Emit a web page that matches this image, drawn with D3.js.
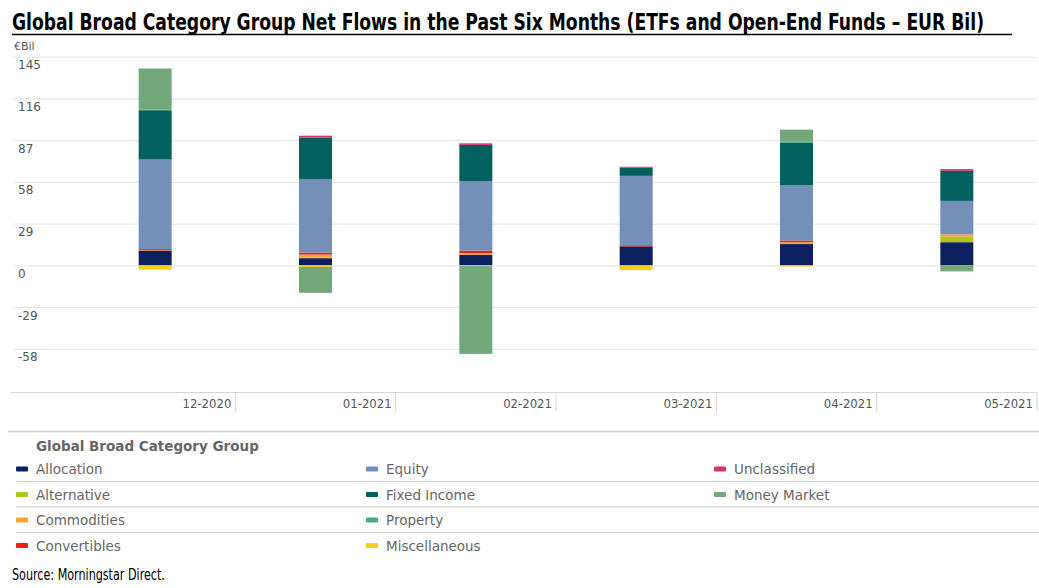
<!DOCTYPE html>
<html>
<head>
<meta charset="utf-8">
<style>
  body { margin: 0; background: #fff; }
  svg { display: block; }
</style>
</head>
<body>
<div id="chart"></div>
<script src="https://d3js.org/d3.v7.min.js"></script>
<script>

	var w = 1039, h = 588;

	// data (EUR bil)
	var months = ["12-2020", "01-2021", "02-2021", "03-2021", "04-2021", "05-2021"];
	var allocation    = [10.2, 5.0, 7.4, 13.2, 14.8, 16.1];
	var alternative   = [0, 0.3, 0, 0, 0, 3.8];
	var commodities   = [0.3, 2.2, 1.2, 0, 1.3, 1.7];
	var convertibles  = [0.8, 1.4, 1.6, 0.8, 1.2, 0];
	var equity        = [62.3, 51, 48.2, 48.2, 38.3, 23.2];
	var fixedIncome   = [34.2, 29, 25.3, 5.6, 29.5, 20.9];
	var property      = [0.5, 0, 0, 0, 1.1, 0];
	var miscellaneous = [-3, -1.1, -0.5, -3.3, -0.8, 0];
	var unclassified  = [0, 1.2, 1.1, 0.7, 0, 1.2];
	var moneyMarket   = [28.5, -18, -61, 0, 8.1, -4.2];
	var yTicks = [-58, -29, 0, 29, 58, 87, 116, 145];

	// stacking order
	var series = [
		{ name: "Allocation", values: allocation, color: "#0c1f5e" },
		{ name: "Alternative", values: alternative, color: "#b3c41a" },
		{ name: "Commodities", values: commodities, color: "#f7a532" },
		{ name: "Convertibles", values: convertibles, color: "#f01e12" },
		{ name: "Equity", values: equity, color: "#7590b8" },
		{ name: "Fixed Income", values: fixedIncome, color: "#02615f" },
		{ name: "Property", values: property, color: "#4fa586" },
		{ name: "Miscellaneous", values: miscellaneous, color: "#f5d016" },
		{ name: "Unclassified", values: unclassified, color: "#d6336c" },
		{ name: "Money Market", values: moneyMarket, color: "#72a87a" }
	];
	// legend layout, column by column
	var legendCols = [
		["Allocation", "Alternative", "Commodities", "Convertibles"],
		["Equity", "Fixed Income", "Property", "Miscellaneous"],
		["Unclassified", "Money Market"]
	];

	var table = months.map(function(m, i) {
		var row = { month: m };
		series.forEach(function(s) { row[s.name] = s.values[i]; });
		return row;
	});
	var colorOf = {};
	series.forEach(function(s) { colorOf[s.name] = s.color; });

	var svg = d3.select("#chart")
				.append("svg")
				.attr("width", w)
				.attr("height", h);

	// squeeze a text horizontally so it spans the given width
	function fitText(sel, x0, y0, width) {
		var len = sel.node().getComputedTextLength();
		sel.attr("transform", "translate(" + x0 + "," + y0 + ") scale(" + (width / len) + ",1)");
	}

	// title
	var title = svg.append("text")
	   .attr("x", 0)
	   .attr("y", 0)
	   .style("font-family", "'Liberation Sans Narrow', 'DejaVu Sans Condensed', sans-serif")
	   .style("font-weight", "bold")
	   .style("font-size", "23px")
	   .style("fill", "#000")
	   .text("Global Broad Category Group Net Flows in the Past Six Months (ETFs and Open-End Funds \u2013 EUR Bil)");
	fitText(title, 12, 30, 973);
	svg.append("line")
	   .attr("x1", 12).attr("x2", 1012)
	   .attr("y1", 34.5).attr("y2", 34.5)
	   .attr("stroke", "#000")
	   .attr("stroke-width", 1.5);

	// scales
	var x = d3.scaleBand()
			  .domain(months)
			  .range([75, 1037]);
	var y = d3.scaleLinear()
			  .domain([-88, 145])
			  .range([392, 56.7]);

	// y axis: gridlines with labels sitting under each line
	var yAxis = d3.axisRight(y)
				  .tickValues(yTicks)
				  .tickFormat(function(d) { return String(d); })
				  .tickSize(1023);
	var gy = svg.append("g")
				.attr("transform", "translate(14,0)")
				.call(yAxis);
	gy.select(".domain").remove();
	gy.selectAll(".tick line").attr("stroke", "#e4e4e4");
	gy.selectAll(".tick text")
	  .attr("x", 4)
	  .attr("dy", 12)
	  .attr("text-anchor", "start")
	  .style("font-family", "'DejaVu Sans', Verdana, sans-serif")
	  .style("font-size", "12px")
	  .style("fill", "#555");

	svg.append("text")
	   .attr("x", 14)
	   .attr("y", 50)
	   .style("font-family", "'DejaVu Sans', Verdana, sans-serif")
	   .style("font-size", "11px")
	   .style("fill", "#555")
	   .text("\u20acBil");

	// bars
	var stack = d3.stack()
				  .keys(series.map(function(s) { return s.name; }))
				  .offset(d3.stackOffsetDiverging);
	var layers = stack(table);

	var barW = 33;
	svg.append("g")
	   .selectAll("g")
	   .data(layers)
	   .enter()
	   .append("g")
	   .attr("fill", function(d) { return colorOf[d.key]; })
	   .selectAll("rect")
	   .data(function(d) { return d; })
	   .enter()
	   .append("rect")
	   .attr("x", function(d) { return x(d.data.month) + x.bandwidth() / 2 - barW / 2; })
	   .attr("y", function(d) { return y(Math.max(d[0], d[1])); })
	   .attr("width", barW)
	   .attr("height", function(d) { return Math.abs(y(d[0]) - y(d[1])); });

	// x axis: labels at the right end of each band, with separators
	var xAxis = d3.axisBottom(x).tickSize(0);
	var gx = svg.append("g")
				.attr("transform", "translate(0,392)")
				.call(xAxis);
	gx.select(".domain").remove();
	gx.selectAll(".tick text")
	  .attr("x", x.bandwidth() / 2 - 4)
	  .attr("y", 16)
	  .attr("dy", 0)
	  .attr("text-anchor", "end")
	  .style("font-family", "'DejaVu Sans Condensed', 'DejaVu Sans', sans-serif")
	  .style("font-size", "13px")
	  .style("fill", "#555");
	gx.selectAll(".tick line")
	  .attr("x1", x.bandwidth() / 2)
	  .attr("x2", x.bandwidth() / 2)
	  .attr("y1", 0)
	  .attr("y2", 19)
	  .attr("stroke", "#d4d4d4");
	svg.append("line")
	   .attr("x1", 10).attr("x2", 1037)
	   .attr("y1", 392.5).attr("y2", 392.5)
	   .attr("stroke", "#d4d4d4");

	// legend
	var legend = svg.append("g");
	legend.append("line")
		  .attr("x1", 8).attr("x2", 1039)
		  .attr("y1", 431.5).attr("y2", 431.5)
		  .attr("stroke", "#d0d0d0")
		  .attr("stroke-width", 1.5);
	legend.append("text")
		  .attr("x", 36)
		  .attr("y", 451)
		  .style("font-family", "'DejaVu Sans', Verdana, sans-serif")
		  .style("font-weight", "bold")
		  .style("font-size", "13.5px")
		  .style("fill", "#666")
		  .text("Global Broad Category Group");

	var rowY = [469, 494.5, 520, 545.5];
	[481.5, 507, 532.5].forEach(function(ly) {
		legend.append("line")
			  .attr("x1", 16).attr("x2", 1039)
			  .attr("y1", ly).attr("y2", ly)
			  .attr("stroke", "#d0d0d0")
			  .attr("stroke-width", 1.2);
	});
	var colX = [16, 366, 714];
	legendCols.forEach(function(col, ci) {
		col.forEach(function(name, ri) {
			legend.append("rect")
				  .attr("x", colX[ci])
				  .attr("y", rowY[ri] - 2.5)
				  .attr("width", 12)
				  .attr("height", 5)
				  .attr("rx", 1)
				  .attr("fill", colorOf[name]);
			legend.append("text")
				  .attr("x", colX[ci] + 20)
				  .attr("y", rowY[ri] + 5)
				  .style("font-family", "'DejaVu Sans', Verdana, sans-serif")
				  .style("font-size", "13.5px")
				  .style("fill", "#666")
				  .text(name);
		});
	});

	// source
	var source = svg.append("text")
	   .attr("x", 0)
	   .attr("y", 0)
	   .style("font-family", "'Liberation Sans Narrow', 'DejaVu Sans Condensed', sans-serif")
	   .style("font-size", "16px")
	   .style("fill", "#000")
	   .text("Source: Morningstar Direct.");
	fitText(source, 12, 580, 153);

</script>
</body>
</html>
